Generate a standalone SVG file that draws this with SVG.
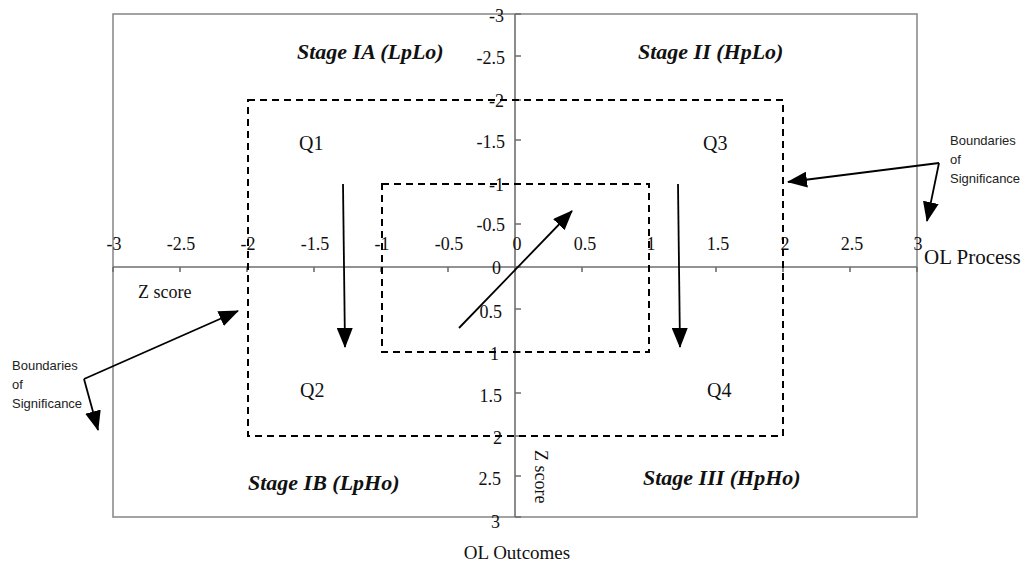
<svg xmlns="http://www.w3.org/2000/svg" width="1022" height="562" viewBox="0 0 1022 562">
<style>
.frame{fill:none;stroke:#8c8c8c;stroke-width:1.6}
.axis{fill:none;stroke:#6e6e6e;stroke-width:1.6}
.dash{fill:none;stroke:#000;stroke-width:2;stroke-dasharray:7 5}
.arr{fill:none;stroke:#000;stroke-width:1.8;marker-end:url(#ah)}
.num{font-family:"Liberation Serif","Times New Roman",serif;font-size:18px;fill:#111}
.ttl{font-family:"Liberation Serif","Times New Roman",serif;font-size:21px;fill:#111}
.stage{font-family:"Liberation Serif","Times New Roman",serif;font-size:22px;font-weight:bold;font-style:italic;fill:#111}
.q{font-family:"Liberation Serif","Times New Roman",serif;font-size:20px;fill:#111}
.note{font-family:"Liberation Sans",Arial,sans-serif;font-size:13px;fill:#222}
</style>
<defs>
<marker id="ah" viewBox="0 0 20 16" refX="19" refY="8" markerWidth="20" markerHeight="16" markerUnits="userSpaceOnUse" orient="auto">
<path d="M0,0 L20,8 L0,16 z" fill="#000"/>
</marker>
</defs>
<rect width="1022" height="562" fill="#fff"/>
<g id="frame">
<rect class="frame" x="113" y="14" width="804" height="503"/>
</g>
<g id="axes">
<line class="axis" x1="113" y1="267" x2="917" y2="267"/>
<line class="axis" x1="515" y1="14" x2="515" y2="517"/>
<path class="axis" d="M113,267v5M180,267v5M247,267v5M314,267v5M381,267v5M448,267v5M515,267v5M582,267v5M649,267v5M716,267v5M783,267v5M850,267v5M917,267v5"/>
<path class="axis" d="M515,14h6M515,56h6M515,100h6M515,140h6M515,184h6M515,224h6M515,267h6M515,309h6M515,352h6M515,393h6M515,436h6M515,476h6M515,517h6"/>
</g>
<g id="x-labels" class="num" text-anchor="middle">
<text x="114" y="250">-3</text>
<text x="181" y="250">-2.5</text>
<text x="248" y="250">-2</text>
<text x="315" y="250">-1.5</text>
<text x="382" y="250">-1</text>
<text x="449" y="250">-0.5</text>
<text x="517" y="250">0</text>
<text x="585" y="250">0.5</text>
<text x="651" y="250">1</text>
<text x="718" y="250">1.5</text>
<text x="785" y="250">2</text>
<text x="852" y="250">2.5</text>
<text x="918" y="250">3</text>
</g>
<g id="y-labels" class="num" text-anchor="end">
<text x="504" y="22">-3</text>
<text x="505" y="64">-2.5</text>
<text x="504" y="107">-2</text>
<text x="505" y="148">-1.5</text>
<text x="504" y="191">-1</text>
<text x="505" y="231">-0.5</text>
<text x="501" y="274">0</text>
<text x="502" y="318">0.5</text>
<text x="499" y="360">1</text>
<text x="502" y="402">1.5</text>
<text x="502" y="444">2</text>
<text x="501" y="485">2.5</text>
<text x="500" y="528">3</text>
</g>
<g id="axis-titles">
<text class="ttl" x="924" y="264">OL Process</text>
<text class="num" x="138" y="298">Z score</text>
<text class="num" transform="translate(535,450) rotate(90)">Z score</text>
<text class="num" x="517" y="559" text-anchor="middle" style="font-size:19px">OL Outcomes</text>
</g>
<g id="boundary-outer">
<rect class="dash" x="248" y="100" width="535" height="336"/>
</g>
<g id="boundary-inner">
<rect class="dash" x="382" y="184" width="267" height="168"/>
</g>
<g id="stage-IA"><text class="stage" x="297" y="59">Stage IA (LpLo)</text></g>
<g id="stage-II"><text class="stage" x="638" y="59">Stage II (HpLo)</text></g>
<g id="stage-IB"><text class="stage" x="248" y="490">Stage IB (LpHo)</text></g>
<g id="stage-III"><text class="stage" x="643" y="485">Stage III (HpHo)</text></g>
<g id="Q1"><text class="q" x="299" y="150">Q1</text></g>
<g id="Q2"><text class="q" x="300" y="397">Q2</text></g>
<g id="Q3"><text class="q" x="703" y="150">Q3</text></g>
<g id="Q4"><text class="q" x="707" y="397">Q4</text></g>
<g id="note-right">
<text class="note" x="950" y="145">Boundaries</text>
<text class="note" x="950" y="164">of</text>
<text class="note" x="950" y="183">Significance</text>
</g>
<g id="note-left">
<text class="note" x="12" y="370">Boundaries</text>
<text class="note" x="12" y="389">of</text>
<text class="note" x="12" y="408">Significance</text>
</g>
<g id="connectors">
<line class="arr" x1="343" y1="184" x2="345" y2="347"/>
<line class="arr" x1="678" y1="184" x2="680" y2="347"/>
<line class="arr" x1="459" y1="328" x2="572" y2="211"/>
<line class="arr" x1="939" y1="163" x2="788" y2="182"/>
<line class="arr" x1="939" y1="163" x2="927" y2="221"/>
<line class="arr" x1="84" y1="379" x2="238" y2="311"/>
<line class="arr" x1="84" y1="379" x2="98" y2="430"/>
</g>
</svg>
